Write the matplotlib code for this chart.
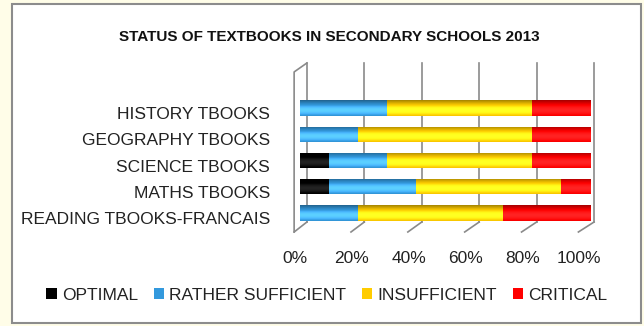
import numpy as np
import matplotlib as mpl
mpl.use("Agg")
import matplotlib.pyplot as plt
from matplotlib.patches import Rectangle
from matplotlib.colors import to_rgb
from matplotlib.transforms import ScaledTranslation

plt.rcParams["font.family"] = ["Liberation Sans", "DejaVu Sans"]

# bottom -> top
subjects = ["READING TBOOKS-FRANCAIS", "MATHS TBOOKS", "SCIENCE TBOOKS",
            "GEOGRAPHY TBOOKS", "HISTORY TBOOKS"]
optimal = [0, 10, 10, 0, 0]
rather_sufficient = [20, 30, 20, 20, 30]
insufficient = [50, 50, 50, 60, 50]
critical = [30, 10, 20, 20, 20]
series = ["OPTIMAL", "RATHER SUFFICIENT", "INSUFFICIENT", "CRITICAL"]
colors = ["#000000", "#3399DD", "#FFCC00", "#FF0000"]
ticks = [0, 20, 40, 60, 80, 100]

W, H = 644, 326
fig = plt.figure(figsize=(W / 100, H / 100), dpi=100)
fig.patch.set_facecolor("#FFFDE8")
# white chart area with grey frame
frame = Rectangle((12 / W, 3 / H), 629 / W, 319 / H, transform=fig.transFigure,
                  facecolor="white", edgecolor="#8C8C8C", lw=1.5, zorder=-5)
fig.add_artist(frame)

ax = fig.add_axes([295 / W, (H - 232) / H, 295 / W, 169 / H])
ax.set_zorder(1)
ax.patch.set_alpha(0)
for s in ax.spines.values():
    s.set_visible(False)

# 3-D style walls: back gridlines, floor diagonals, left wall
dx_back, dx_front = 2.4, -2.0
y_floor_back, y_floor_front, y_top = -0.34, -0.72, 5.71
gc = "#8A8A8A"
for t in ticks:
    xb = t * 0.99 + dx_back
    ax.plot([xb, xb], [y_floor_back, y_top], color=gc, lw=1.2, zorder=1, clip_on=False)
    ax.plot([xb, t * 0.98 + dx_front], [y_floor_back, y_floor_front], color=gc, lw=1.2,
            zorder=1, clip_on=False)
ax.plot([dx_front, dx_front, dx_back], [y_floor_front, 5.37, y_top], color=gc, lw=1.2,
        zorder=1, clip_on=False)

# cylinder shading profile (top -> bottom of each bar)
prof = np.linspace(-1, 1, 40)
shade = 0.74 + 0.38 * np.cos((prof + 0.15) * 1.4) - 0.08 * prof
shade = np.clip(shade, 0, 1.15)

y = np.arange(len(subjects))
h = 0.58
data = [optimal, rather_sufficient, insufficient, critical]
left = np.zeros(len(subjects))
for vals, c, name in zip(data, colors, series):
    vals = np.array(vals, dtype=float)
    bars = ax.barh(y, vals, h, left=left, color=c, label=name, zorder=2, linewidth=0)
    rgb = np.array(to_rgb(c))
    for b, v, l in zip(bars, vals, left):
        if v <= 0:
            continue
        col = rgb[None, :] * shade[:, None]
        col = np.clip(col + np.maximum(shade[:, None] - 1, 0), 0, 1)
        img = ax.imshow(col[:, None, :], aspect="auto", interpolation="bilinear",
                        extent=(l, l + v, b.get_y() + h, b.get_y()), zorder=3)
        img.set_clip_path(b)
    left += vals
ax.set_xlim(0, 100)
ax.set_ylim(-0.72, 5.71)

ax.set_yticks(y)
ax.set_yticklabels(subjects, fontsize=12.5, color="#222222")
ax.tick_params(axis="y", length=0, pad=18)
shift = ScaledTranslation(0, -5 / 100, fig.dpi_scale_trans)
for lab in ax.get_yticklabels():
    lab.set_transform(lab.get_transform() + shift)
ax.set_xticks(np.array(ticks) * 0.98 - 1.7)
ax.set_xticklabels([f"{t}%" for t in ticks], fontsize=12.5, color="#222222")
ax.tick_params(axis="x", length=0, pad=14)

fig.text(329 / W, 1 - 37 / H, "STATUS OF TEXTBOOKS IN SECONDARY SCHOOLS 2013",
         ha="center", va="center", fontsize=11, fontweight="bold", color="#111111")

handles, labels = ax.get_legend_handles_labels()
fig.legend(handles, labels, loc="center", bbox_to_anchor=(327 / W, 1 - 295 / H), ncol=4,
           frameon=False, fontsize=12.5, handlelength=0.6, handleheight=0.6,
           handletextpad=0.3, columnspacing=0.9, labelcolor="#222222")

fig.savefig("out.png", dpi=100, facecolor=fig.get_facecolor())
